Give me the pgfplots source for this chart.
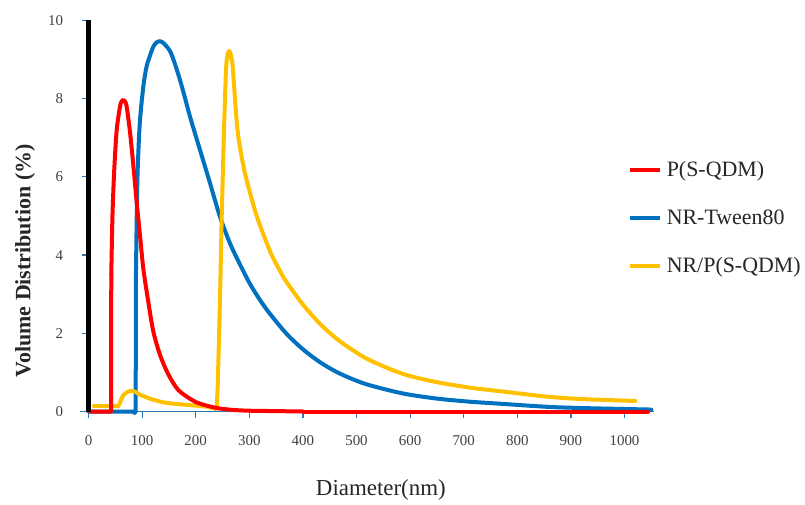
\documentclass[border=0pt]{standalone}
\usepackage{fontspec}
\setmainfont{Liberation Serif}
\usepackage{pgfplots}
\pgfplotsset{compat=1.18}
\definecolor{cred}{RGB}{255,0,0}
\definecolor{cblue}{RGB}{0,112,192}
\definecolor{cyel}{RGB}{255,192,0}
\definecolor{caxis}{RGB}{46,117,182}
\definecolor{ctext}{RGB}{64,64,64}
\begin{document}
\begin{tikzpicture}
\useasboundingbox (-88.5bp,-93.5bp) rectangle (716.5bp,411.5bp);
\begin{axis}[
 scale only axis, width=565.5bp, height=391bp,
 xmin=0, xmax=1055, ymin=0, ymax=10,
 axis x line=bottom, axis y line=left,
 axis line style={caxis, line width=1.5bp, -},
 clip=false,
 xtick={0,100,...,1000}, ytick={0,2,...,10},
 tick align=outside,
 major tick length=6bp,
 tick style={caxis, line width=1.2bp},
 ticklabel style={font=\fontsize{15}{18}\selectfont, text=ctext},
 xticklabel style={yshift=-15bp},
 yticklabel style={xshift=-16bp},
 /pgf/number format/assume math mode=true,
 /pgf/number format/1000 sep={},
 xlabel={Diameter(nm)},
 ylabel={\textbf{Volume Distribution (\%)}},
 xlabel style={at={(axis description cs:0.517,-0.2)}, anchor=center, font=\fontsize{23}{27}\selectfont, text=black!85},
 ylabel style={at={(axis description cs:-0.1123,0.385)}, anchor=center, font=\fontsize{22}{26}\selectfont, text=black!85},
 legend style={at={(axis description cs:0.954,0.495)}, anchor=west, draw=none, fill=none, inner sep=0pt, font=\fontsize{22}{26}\selectfont, text=black!85, cells={anchor=west}},
 legend image code/.code={\path[draw=none, fill=none] (0bp,-24bp) rectangle (35bp,24bp); \draw[#1] (0bp,0bp) -- (30bp,0bp);},
 every axis plot/.append style={line join=round, line cap=round},
]
\addlegendimage{cred, line width=3.2bp, line cap=butt}
\addlegendentry{P(S-QDM)}
\addlegendimage{cblue, line width=3.2bp, line cap=butt}
\addlegendentry{NR-Tween80}
\addlegendimage{cyel, line width=3.2bp, line cap=butt}
\addlegendentry{NR/P(S-QDM)}
\draw[caxis, line width=1.5bp] (axis cs:-16,0) -- (axis cs:0,0);
% NR-Tween80
\addplot[cblue, line width=4bp, forget plot] coordinates {
(0,0) (84,0) (86,-0.04) (88,0) (88.5,3.5)
};
\addplot[cblue, line width=4bp, smooth, forget plot] coordinates {
(88.5,3.5) (89.9,4.9) (91,5.8) (92.9,6.6) (96.1,7.46)
(102.3,8.31) (108,8.8) (114.7,9.1) (120.9,9.33) (127,9.44) (133.4,9.47) (140,9.42) (152,9.22)
(161,8.9) (170.7,8.48) (180,8.02) (189.4,7.54) (208,6.69) (226.7,5.84) (245.3,4.98) (264,4.30)
(283,3.75) (301,3.27) (320,2.85) (339,2.49) (370,1.98) (401,1.58) (432,1.26)
(463,1.01) (494,0.82) (525,0.67) (587,0.46) (650,0.33) (712,0.25) (767,0.2) (855,0.12)
(917,0.09) (979,0.07) (1050,0.05)
};
% NR/P(S-QDM)
\addplot[cyel, line width=4bp, forget plot] coordinates {
(10,0.13) (55,0.13)
};
\addplot[cyel, line width=4bp, smooth, forget plot] coordinates {
(55,0.13) (58,0.2) (62,0.34) (66,0.43) (71,0.49) (80,0.53) (88,0.5) (96,0.43)
(121,0.3) (146,0.22) (183,0.17) (210,0.14) (226,0.11) (236,0.07)
};
\addplot[cyel, line width=4bp, forget plot] coordinates {
(236,0.07) (239,0.08) (241,0.6) (245.3,2.85) (248.5,4.98) (252.8,7.2)
};
\addplot[cyel, line width=4bp, smooth, forget plot] coordinates {
(252.8,7.2) (256.5,8.73) (259.5,9.13) (262.7,9.22) (265.5,9.12) (269,8.82) (275.2,7.63)
(279.5,7.03) (287,6.42) (295,5.92) (313.8,5.0) (338.6,4.1) (357,3.6) (370,3.3)
(401,2.72) (432,2.24) (463,1.86) (494,1.56) (525,1.31) (587,0.96) (650,0.75)
(712,0.61) (767,0.52) (792,0.48) (855,0.38) (917,0.32) (1020,0.27)
};
% P(S-QDM)
\addplot[cred, line width=4bp, forget plot] coordinates {
(3,0) (42,0) (42.5,3.5)
};
\addplot[cred, line width=4bp, smooth, forget plot] coordinates {
(42.5,3.5) (44.5,4.9) (46.5,5.7) (48.5,6.3) (52.6,7.2) (58.8,7.8) (61.5,7.92)
(65,7.97) (68,7.93) (71.2,7.8) (77.4,7.15) (83.6,6.3) (89.9,5.35) (96.1,4.5) (102.3,3.65)
(111.6,2.8) (120.9,2.05) (133.4,1.45) (148.9,0.95) (167.5,0.55) (192.5,0.3) (208,0.2)
(239,0.09) (270,0.04) (301,0.02) (350,0.01) (400,0)
};
\addplot[cred, line width=4bp, forget plot] coordinates {
(400,0) (1044,0)
};
\addplot[black, line width=4.5bp, line cap=butt, forget plot] coordinates {(0,0) (0,10)};
\end{axis}
\end{tikzpicture}
\end{document}
